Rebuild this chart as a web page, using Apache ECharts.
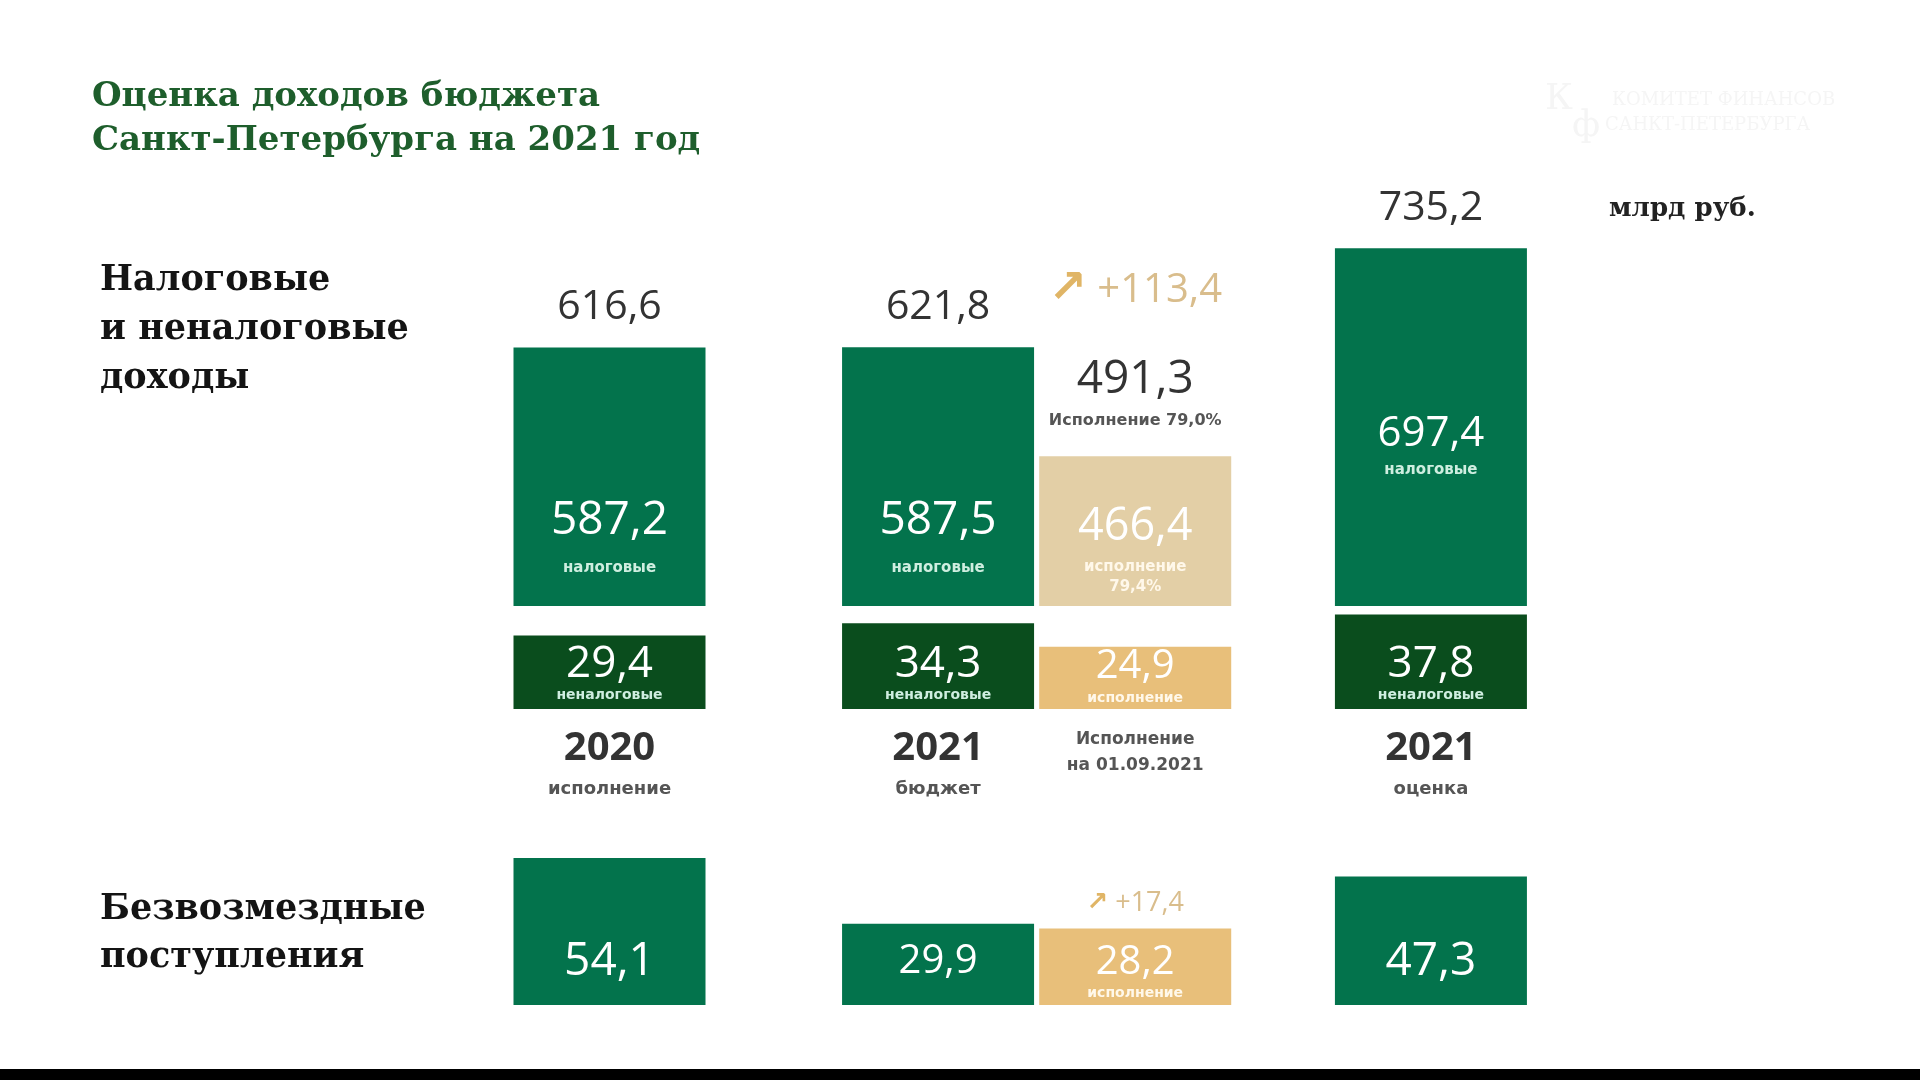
<!DOCTYPE html>
<html><head><meta charset="utf-8">
<script src="https://cdn.jsdelivr.net/npm/echarts@6/dist/echarts.min.js"></script>
<style>html,body{margin:0;padding:0;background:#fff}#c{width:1920px;height:1080px}</style>
</head><body><div id="c"></div>
<script>
// ---- data ----
const columnYears = ['2020', '2021', 'Исполнение', '2021'];
const columnNotes = ['исполнение', 'бюджет', 'на 01.09.2021', 'оценка'];
const taxValues = [587.2, 587.5, 466.4, 697.4];
const taxNotes = ['налоговые', 'налоговые', 'исполнение\n79,4%', 'налоговые'];
const nonTaxValues = [29.4, 34.3, 24.9, 37.8];
const nonTaxNotes = ['неналоговые', 'неналоговые', 'исполнение', 'неналоговые'];
const totalValues = [616.6, 621.8, 491.3, 735.2];
const totalNotes = ['', '', 'Исполнение 79,0%', ''];
const grantValues = [54.1, 29.9, 28.2, 47.3];
const grantNotes = ['', '', 'исполнение', ''];
const taxGrowth = '+113,4';
const grantGrowth = '+17,4';

// ---- layout / style ----
const SLOT_W = 32.857;
const SLOTS = 32, SLOT_OF = [3, 13, 19, 28], EXEC = 2;
const NUM = 'Open Sans', SMALL = 'DejaVu Sans', SERIF = 'DejaVu Serif';
const C = {green:'#03734c', dark:'#0a4d1d', beige:'#e3cfa6', gold:'#e8bf7a', text:'#333333', sub:'#555555',
  growth:'#d9bd8c', arrow:'#e0b566', mint:'#cfeee0'};
const BW = 192;
const fmt = v => v.toFixed(1).replace('.', ',');
const slotNames = Array.from({length: SLOTS}, (_, k) => 's' + k);
function toSlots(items) { const a = new Array(SLOTS).fill('-'); items.forEach((it, i) => { a[SLOT_OF[i]] = it; }); return a; }
const notesRich = t => t.split('\n').map(x => `{s|${x}}`).join('\n');

function taxLabel(i) {
  const text = `{v|${fmt(taxValues[i])}}\n` + notesRich(taxNotes[i]);
  const sStyle = {fontSize: 15, fontWeight: 'bold', fontFamily: SMALL, color: i === EXEC ? '#fff8ea' : C.mint};
  if (i === EXEC) return {show: true, position: 'inside', offset: [0, 16], formatter: () => text,
    rich: {v: {fontSize: 45, lineHeight: 60, fontFamily: NUM, color: '#fff'}, s: Object.assign({lineHeight: 20}, sStyle)}};
  if (i === 3) return {show: true, position: 'inside', offset: [0, 18], formatter: () => text,
    rich: {v: {fontSize: 42, lineHeight: 50, fontFamily: NUM, color: '#fff'}, s: Object.assign({lineHeight: 22}, sStyle)}};
  return {show: true, position: 'insideBottom', distance: 21, formatter: () => text,
    rich: {v: {fontSize: 46, lineHeight: 60, fontFamily: NUM, color: '#fff'}, s: Object.assign({lineHeight: 34}, sStyle)}};
}
function totalLabel(i) {
  if (i === EXEC) {
    const text = `{a|↗}{g| ${taxGrowth}}\n{gap| }\n{t|${fmt(totalValues[i])}}\n{n|${totalNotes[i]}}`;
    return {show: true, position: 'top', distance: 16, formatter: () => text,
      rich: {a: {fontSize: 46, fontWeight: 'bold', fontFamily: SMALL, color: C.arrow, lineHeight: 44},
        g: {fontSize: 40, fontFamily: NUM, color: C.growth, lineHeight: 44},
        gap: {fontSize: 10, lineHeight: 46},
        t: {fontSize: 46, fontFamily: NUM, color: C.text, lineHeight: 44},
        n: {fontSize: 16, fontWeight: 'bold', fontFamily: SMALL, color: C.sub, lineHeight: 38}}};
  }
  return {show: true, position: 'top', distance: 16, formatter: () => `{t|${fmt(totalValues[i])}}`,
    rich: {t: {fontSize: 41, fontFamily: NUM, color: C.text, lineHeight: 48}}};
}
function nonTaxLabel(i) {
  const text = `{v|${fmt(nonTaxValues[i])}}\n` + notesRich(nonTaxNotes[i]);
  return {show: true, position: 'insideBottom', distance: i === EXEC ? 1 : 4, formatter: () => text,
    rich: {v: {fontSize: i === EXEC ? 40 : 44, lineHeight: 42, fontFamily: NUM, color: '#fff'},
      s: {fontSize: 14, fontWeight: 'bold', fontFamily: SMALL, color: i === EXEC ? '#fff8ea' : C.mint, lineHeight: 20}}};
}
function grantLabel(i) {
  if (grantNotes[i]) {
    return {show: true, position: 'insideBottom', distance: 2,
      formatter: () => `{v|${fmt(grantValues[i])}}\n` + notesRich(grantNotes[i]),
      rich: {v: {fontSize: 40, lineHeight: 40, fontFamily: NUM, color: '#fff'},
        s: {fontSize: 14, fontWeight: 'bold', fontFamily: SMALL, color: '#fff8ea', lineHeight: 20}}};
  }
  return {show: true, position: 'insideBottom', distance: 18, formatter: () => `{v|${fmt(grantValues[i])}}`,
    rich: {v: {fontSize: grantValues[i] < 40 ? 40 : 46, lineHeight: 50, fontFamily: NUM, color: '#fff'}}};
}

const taxData = toSlots(taxValues.map((v, i) => ({value: v, itemStyle: {color: i === EXEC ? C.beige : C.green}, label: taxLabel(i)})));
const totalData = toSlots(taxValues.map((v, i) => ({value: v, label: totalLabel(i)})));
const nonTaxData = toSlots(nonTaxValues.map((v, i) => ({value: v, itemStyle: {color: i === EXEC ? C.gold : C.dark}, label: nonTaxLabel(i)})));
const grantData = toSlots(grantValues.map((v, i) => ({value: v, itemStyle: {color: i === EXEC ? C.gold : C.green}, label: grantLabel(i)})));
const grantGrowthData = toSlots(grantValues.map((v, i) => ({value: v, label: {show: i === EXEC}})));

const GL = 609.5 - SLOT_W * (SLOT_OF[0] + 0.5), GW = SLOT_W * SLOTS;
const grids = [
  {left: GL, width: GW, top: 201, height: 405},
  {left: GL, width: GW, top: 609, height: 100},
  {left: GL, width: GW, top: 842, height: 163}
].map(g => Object.assign({outerBoundsMode: 'none', containLabel: false}, g));

const xAxisBase = i => ({type: 'category', gridIndex: i, data: slotNames, boundaryGap: true,
  axisLine: {show: false}, axisTick: {show: false}, splitLine: {show: false}, axisLabel: {show: false}});
const xAxes = [xAxisBase(0), xAxisBase(1), xAxisBase(2)];
xAxes[1].axisLabel = {show: true, interval: 0, margin: 18,
  formatter: (val, idx) => {
    const c = SLOT_OF.indexOf(idx);
    if (c < 0) return '';
    if (c === EXEC) return `{e|${columnYears[c]}}\n{e|${columnNotes[c]}}`;
    return `{y|${columnYears[c]}}\n{s|${columnNotes[c]}}`;
  },
  rich: {y: {fontSize: 40, fontWeight: 'bold', fontFamily: NUM, color: C.text, lineHeight: 44},
    s: {fontSize: 18, fontWeight: 'bold', fontFamily: SMALL, color: C.sub, lineHeight: 36},
    e: {fontSize: 17, fontWeight: 'bold', fontFamily: SMALL, color: C.sub, lineHeight: 26}}};
const yAxisBase = (i, min, max) => ({type: 'value', gridIndex: i, min, max, show: false, splitLine: {show: false}});
const yAxes = [yAxisBase(0, 300, 750), yAxisBase(1, 0, 40), yAxisBase(2, 0, 60)];

const barCommon = {type: 'bar', barWidth: BW, barGap: '-100%', clip: true, animation: false, silent: true};
const series = [
  Object.assign({}, barCommon, {name: 'Налоговые', xAxisIndex: 0, yAxisIndex: 0, data: taxData}),
  Object.assign({}, barCommon, {name: 'Итого', xAxisIndex: 0, yAxisIndex: 0, data: totalData,
    itemStyle: {color: 'rgba(0,0,0,0)'}, z: 3}),
  Object.assign({}, barCommon, {name: 'Неналоговые', xAxisIndex: 1, yAxisIndex: 1, data: nonTaxData}),
  Object.assign({}, barCommon, {name: 'Безвозмездные', xAxisIndex: 2, yAxisIndex: 2, data: grantData}),
  Object.assign({}, barCommon, {name: 'Рост', xAxisIndex: 2, yAxisIndex: 2, data: grantGrowthData,
    itemStyle: {color: 'rgba(0,0,0,0)'}, z: 3,
    label: {position: 'top', distance: 8, formatter: () => `{a|↗}{g| ${grantGrowth}}`,
      rich: {a: {fontSize: 26, fontWeight: 'bold', fontFamily: SMALL, color: C.arrow, lineHeight: 34},
        g: {fontSize: 27, fontFamily: NUM, color: C.growth, lineHeight: 34}}}})
];

const txt = (text, x, y, font, fill, extra) => ({type: 'text', silent: true,
  style: Object.assign({text, x, y, font, fill, textVerticalAlign: 'middle', textAlign: 'left'}, extra || {})});
const graphic = [
  txt('Оценка доходов бюджета', 92, 97, `bold 34px "${SERIF}"`, '#1e5e2c'),
  txt('Санкт-Петербурга на 2021 год', 92, 141, `bold 34px "${SERIF}"`, '#1e5e2c'),
  txt('Налоговые', 100, 281, `bold 35px "${SERIF}"`, '#141414'),
  txt('и неналоговые', 100, 330, `bold 35px "${SERIF}"`, '#141414'),
  txt('доходы', 100, 379, `bold 35px "${SERIF}"`, '#141414'),
  txt('Безвозмездные', 100, 910, `bold 35px "${SERIF}"`, '#141414'),
  txt('поступления', 100, 958, `bold 35px "${SERIF}"`, '#141414'),
  txt('млрд руб.', 1609, 209, `bold 26px "${SERIF}"`, '#222222'),
  txt('К', 1545, 100, `36px "${SERIF}"`, '#f5f5f5'),
  txt('КОМИТЕТ ФИНАНСОВ', 1612, 100, `18px "${SERIF}"`, '#f5f5f5'),
  txt('ф', 1572, 127, `36px "${SERIF}"`, '#f5f5f5'),
  txt('САНКТ-ПЕТЕРБУРГА', 1605, 125, `18px "${SERIF}"`, '#f5f5f5'),
  {type: 'rect', silent: true, shape: {x: 0, y: 1069, width: 1920, height: 11}, style: {fill: '#000'}}
];

const chart = echarts.init(document.getElementById('c'), null, {renderer: 'canvas'});
chart.setOption({
  backgroundColor: '#ffffff', animation: false,
  grid: grids, xAxis: xAxes, yAxis: yAxes, series, graphic
});
</script></body></html>
